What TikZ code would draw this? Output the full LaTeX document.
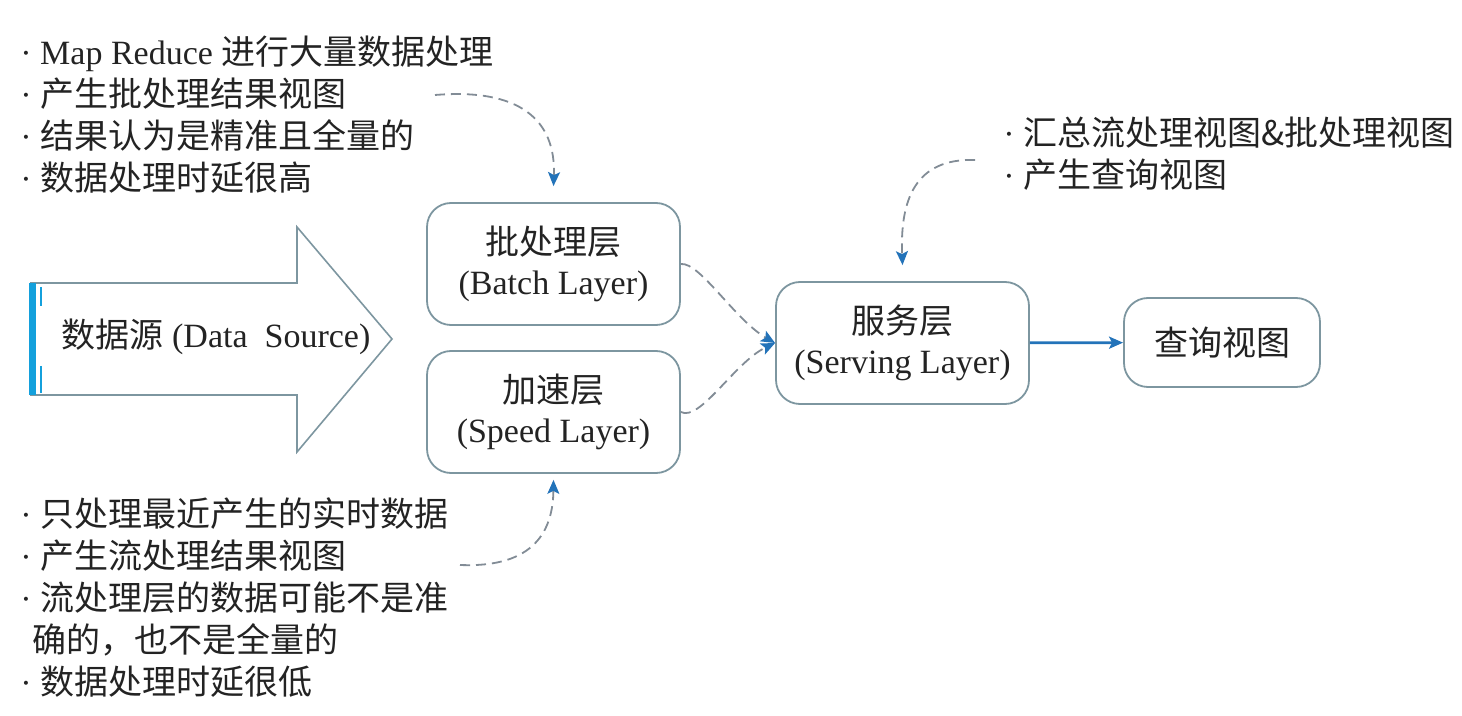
\documentclass[tikz,border=0pt]{standalone}
\usepackage{fontspec}
\setmainfont{Liberation Serif}
\newfontfamily\cjk{Noto Sans CJK SC}
\newcommand{\zh}[1]{{\cjk #1}}
\usetikzlibrary{arrows.meta}
\definecolor{boxline}{RGB}{125,150,160}
\definecolor{flowgray}{RGB}{130,140,150}
\definecolor{tipblue}{RGB}{35,115,185}
\definecolor{barblue}{RGB}{20,160,220}
\definecolor{txt}{RGB}{35,35,35}

\begin{document}
\begin{tikzpicture}[x=0.5pt,y=-0.5pt,>=Stealth,
  layer/.style={draw=boxline,line width=0.9pt,rounded corners=12pt,align=center,
    minimum width=126.5pt,minimum height=61pt,inner sep=2pt,text=txt,
    font=\fontsize{17}{20}\selectfont},
  note/.style={anchor=north west,align=left,inner sep=0pt,text=txt,
    font=\fontsize{17}{21}\selectfont},
  flow/.style={draw=flowgray,line width=0.9pt,dash pattern=on 5pt off 3pt,
    -{Stealth[length=7pt,width=6pt,inset=1.5pt,color=tipblue]}}]

  \useasboundingbox (0,0) rectangle (1462,716);

  % data source arrow
  \draw[boxline,line width=0.8pt] (30,283) -- (297,283) -- (297,227) -- (392,339)
    -- (297,452) -- (297,395) -- (30,395);
  \fill[barblue] (29,283) rectangle (36,395);
  \draw[barblue,line width=1pt] (41,287) -- (41,306) (41,366) -- (41,393);
  \node[text=txt,font=\fontsize{17}{20}\selectfont] (src) at (216,337)
    {\zh{数据源} (Data\ \ Source)};

  % layers
  \node[layer] (batch) at (553.5,264) {\zh{批处理层}\\(Batch Layer)};
  \node[layer] (speed) at (553.5,412) {\zh{加速层}\\(Speed Layer)};
  \node[layer] (serve) at (902.5,343) {\zh{服务层}\\(Serving Layer)};
  \node[layer,minimum width=98pt,minimum height=44.5pt] (query) at (1222,342.5) {\zh{查询视图}};

  % notes
  \node[note] (batchnote) at (20,36) {%
    · Map Reduce \zh{进行大量数据处理}\\
    · \zh{产生批处理结果视图}\\
    · \zh{结果认为是精准且全量的}\\
    · \zh{数据处理时延很高}};
  \node[note] (speednote) at (20,497) {%
    · \zh{只处理最近产生的实时数据}\\
    · \zh{产生流处理结果视图}\\
    · \zh{流处理层的数据可能不是准}\\
    \hspace*{6pt}\zh{确的，也不是全量的}\\
    · \zh{数据处理时延很低}};
  \node[note] (servenote) at (1003,117) {%
    · \zh{汇总流处理视图\&批处理视图}\\
    · \zh{产生查询视图}};

  \coordinate (bstart) at (435,95);
  \coordinate (sstart) at (460,565);
  \coordinate (vstart) at (975,160);

  % connectors
  \draw[flow] (bstart) .. controls (520,88) and (556,120) .. ([yshift=8pt]batch.north);
  \draw[flow] (sstart) .. controls (535,568) and (553,530) .. ([yshift=-3pt]speed.south);
  \draw[flow] (vstart) .. controls (915,158) and (900,200) .. ([yshift=8pt]serve.north);
  \draw[flow] (batch.east) .. controls (700,262) and (735,320) .. (serve.west);
  \draw[flow] (speed.east) .. controls (700,422) and (735,362) .. (serve.west);
  \draw[tipblue,line width=1.4pt,-{Stealth[length=7pt,width=6pt,inset=1.5pt]}] (serve) -- (query);
\end{tikzpicture}
\end{document}
